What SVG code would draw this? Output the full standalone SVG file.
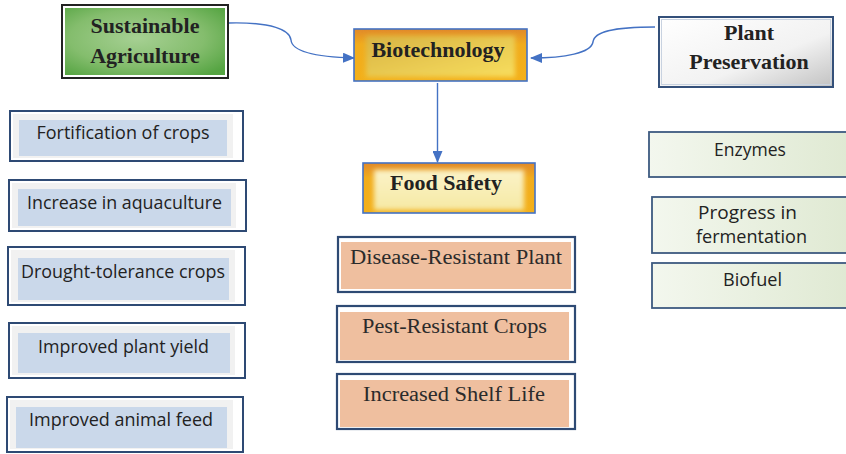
<svg xmlns="http://www.w3.org/2000/svg" width="846" height="454" viewBox="0 0 846 454">
  <style>
    .head { font-family: "Liberation Serif", "Times New Roman", serif; font-weight: bold; font-size: 22px; fill: #222; text-anchor: middle; }
    .sans { font-family: "Open Sans", "Noto Sans", "Liberation Sans", sans-serif; font-size: 18px; fill: #222; text-anchor: middle; }
    .serif { font-family: "Liberation Serif", "Times New Roman", serif; font-size: 20px; fill: #2b2b2b; text-anchor: middle; }
    .blueBox { fill: #ffffff; stroke: #2e4a74; stroke-width: 2; }
    .blueBand { fill: #f1f1f1; }
    .blueFill { fill: #cad8ea; }
    .peachBox { fill: #ffffff; stroke: #2e4a74; stroke-width: 2.2; }
    .peachFill { fill: #efbf9f; }
    .greenBox { fill: url(#paleGreen); stroke: #3d5a80; stroke-width: 1.8; }
    .link { fill: none; stroke: #4472c4; stroke-width: 1.4; }
  </style>
  <defs>
    <marker id="arrow" markerWidth="12" markerHeight="10" refX="11" refY="5" orient="auto" markerUnits="userSpaceOnUse">
      <path d="M0,0 L12,5 L0,10 Z" fill="#4472c4"/>
    </marker>
    <radialGradient id="greenGlow" cx="0.45" cy="0.45" r="0.7">
      <stop offset="0" stop-color="#a6d093"/>
      <stop offset="0.6" stop-color="#84bd6d"/>
      <stop offset="1" stop-color="#55a442"/>
    </radialGradient>
    <linearGradient id="orangeEdge" x1="0" y1="0" x2="0" y2="1">
      <stop offset="0" stop-color="#e0892a"/>
      <stop offset="0.3" stop-color="#f1ac1c"/>
      <stop offset="1" stop-color="#f3b01a"/>
    </linearGradient>
    <linearGradient id="yellowCore" x1="0" y1="0" x2="1" y2="1">
      <stop offset="0" stop-color="#d8b444"/>
      <stop offset="1" stop-color="#f8de5e"/>
    </linearGradient>
    <linearGradient id="creamCore" x1="0" y1="0" x2="0" y2="1">
      <stop offset="0" stop-color="#fbf3c8"/>
      <stop offset="1" stop-color="#f6e9a4"/>
    </linearGradient>
    <linearGradient id="silver" x1="0" y1="0" x2="1" y2="1">
      <stop offset="0" stop-color="#ffffff"/>
      <stop offset="0.6" stop-color="#f2f2f2"/>
      <stop offset="1" stop-color="#c2c2c2"/>
    </linearGradient>
    <linearGradient id="paleGreen" x1="0" y1="0" x2="1" y2="0">
      <stop offset="0" stop-color="#f3f7ee"/>
      <stop offset="1" stop-color="#dfe9d2"/>
    </linearGradient>
    <filter id="soft" x="-10%" y="-20%" width="120%" height="140%">
      <feGaussianBlur stdDeviation="2.5"/>
    </filter>
  </defs>

  <!-- connectors -->
  <g id="connectors">
    <path class="link" d="M229,23 C272,22 290,30 291,40 C292,52 318,57 354,58" marker-end="url(#arrow)"/>
    <path class="link" d="M655,27 C612,27 594,32 593,42 C591,53 565,58 531,58" marker-end="url(#arrow)"/>
    <path class="link" d="M437.5,83 L437.5,162" marker-end="url(#arrow)"/>
  </g>

  <!-- main nodes -->
  <g id="sustainable-agriculture">
    <rect x="62" y="5" width="166" height="73" fill="#ffffff" stroke="#222222" stroke-width="2"/>
    <rect x="65" y="8" width="160" height="67" fill="url(#greenGlow)"/>
    <text class="head" x="145" y="33">Sustainable</text>
    <text class="head" x="145" y="63">Agriculture</text>
  </g>

  <g id="biotechnology">
    <rect x="354" y="29" width="173" height="52" fill="url(#orangeEdge)"/>
    <rect x="366" y="36" width="149" height="41" fill="url(#yellowCore)" filter="url(#soft)"/>
    <rect x="354" y="29" width="173" height="52" fill="none" stroke="#4472c4" stroke-width="1.6"/>
    <text class="head" x="438" y="57">Biotechnology</text>
  </g>

  <g id="plant-preservation">
    <rect x="659" y="17" width="174" height="70" fill="url(#silver)" stroke="#34507a" stroke-width="2"/>
    <rect x="661.5" y="19.5" width="169" height="65" fill="none" stroke="#c8d2e0" stroke-width="1"/>
    <text class="head" x="749" y="40">Plant</text>
    <text class="head" x="749" y="69">Preservation</text>
  </g>

  <g id="food-safety">
    <rect x="363" y="163" width="172" height="50" fill="url(#orangeEdge)"/>
    <rect x="374" y="170" width="150" height="40" fill="url(#creamCore)" filter="url(#soft)"/>
    <rect x="363" y="163" width="172" height="50" fill="none" stroke="#4472c4" stroke-width="1.6"/>
    <text class="head" x="446" y="190">Food Safety</text>
  </g>

  <!-- left column -->
  <g id="fortification">
    <rect class="blueBox" x="10" y="111" width="233" height="50"/>
    <rect class="blueBand" x="13" y="114" width="220" height="44"/>
    <rect class="blueFill" x="19" y="120" width="208" height="36"/>
    <text class="sans" x="123" y="139" textLength="173" lengthAdjust="spacingAndGlyphs">Fortification of crops</text>
  </g>
  <g id="aquaculture">
    <rect class="blueBox" x="9" y="180" width="237" height="51"/>
    <rect class="blueBand" x="12" y="183" width="224" height="45"/>
    <rect class="blueFill" x="18" y="189" width="213" height="37"/>
    <text class="sans" x="124.5" y="209" textLength="195" lengthAdjust="spacingAndGlyphs">Increase in aquaculture</text>
  </g>
  <g id="drought-tolerance">
    <rect class="blueBox" x="8" y="247" width="237" height="58"/>
    <rect class="blueBand" x="11" y="250" width="224" height="52"/>
    <rect class="blueFill" x="18" y="258" width="211" height="42"/>
    <text class="sans" x="123" y="278" textLength="204" lengthAdjust="spacingAndGlyphs">Drought-tolerance crops</text>
  </g>
  <g id="plant-yield">
    <rect class="blueBox" x="9" y="323" width="236" height="55"/>
    <rect class="blueBand" x="12" y="326" width="223" height="49"/>
    <rect class="blueFill" x="18" y="333" width="212" height="40"/>
    <text class="sans" x="123.5" y="353" textLength="171" lengthAdjust="spacingAndGlyphs">Improved plant yield</text>
  </g>
  <g id="animal-feed">
    <rect class="blueBox" x="7" y="397" width="236" height="55"/>
    <rect class="blueBand" x="10" y="400" width="223" height="49"/>
    <rect class="blueFill" x="16" y="407" width="211" height="41"/>
    <text class="sans" x="121" y="426" textLength="184" lengthAdjust="spacingAndGlyphs">Improved animal feed</text>
  </g>

  <!-- middle column -->
  <g id="disease-resistant">
    <rect class="peachBox" x="338" y="237" width="237" height="55"/>
    <rect class="peachFill" x="341" y="242" width="230" height="47"/>
    <text class="serif" x="456" y="264" textLength="212" lengthAdjust="spacingAndGlyphs">Disease-Resistant Plant</text>
  </g>
  <g id="pest-resistant">
    <rect class="peachBox" x="337" y="306" width="238" height="56"/>
    <rect class="peachFill" x="340" y="312" width="229" height="48"/>
    <text class="serif" x="454.5" y="333" textLength="185" lengthAdjust="spacingAndGlyphs">Pest-Resistant Crops</text>
  </g>
  <g id="shelf-life">
    <rect class="peachBox" x="337" y="374" width="238" height="55"/>
    <rect class="peachFill" x="340" y="380" width="229" height="47"/>
    <text class="serif" x="454" y="401" textLength="182" lengthAdjust="spacingAndGlyphs">Increased Shelf Life</text>
  </g>

  <!-- right column -->
  <g id="enzymes">
    <rect class="greenBox" x="649" y="132" width="205" height="45"/>
    <text class="sans" x="750" y="156" textLength="72" lengthAdjust="spacingAndGlyphs">Enzymes</text>
  </g>
  <g id="fermentation">
    <rect class="greenBox" x="652" y="197" width="202" height="56"/>
    <text class="sans" x="747.5" y="219" textLength="99" lengthAdjust="spacingAndGlyphs">Progress in</text>
    <text class="sans" x="751.5" y="243" textLength="111" lengthAdjust="spacingAndGlyphs">fermentation</text>
  </g>
  <g id="biofuel">
    <rect class="greenBox" x="652" y="263" width="202" height="45"/>
    <text class="sans" x="752.5" y="286" textLength="59" lengthAdjust="spacingAndGlyphs">Biofuel</text>
  </g>
</svg>
